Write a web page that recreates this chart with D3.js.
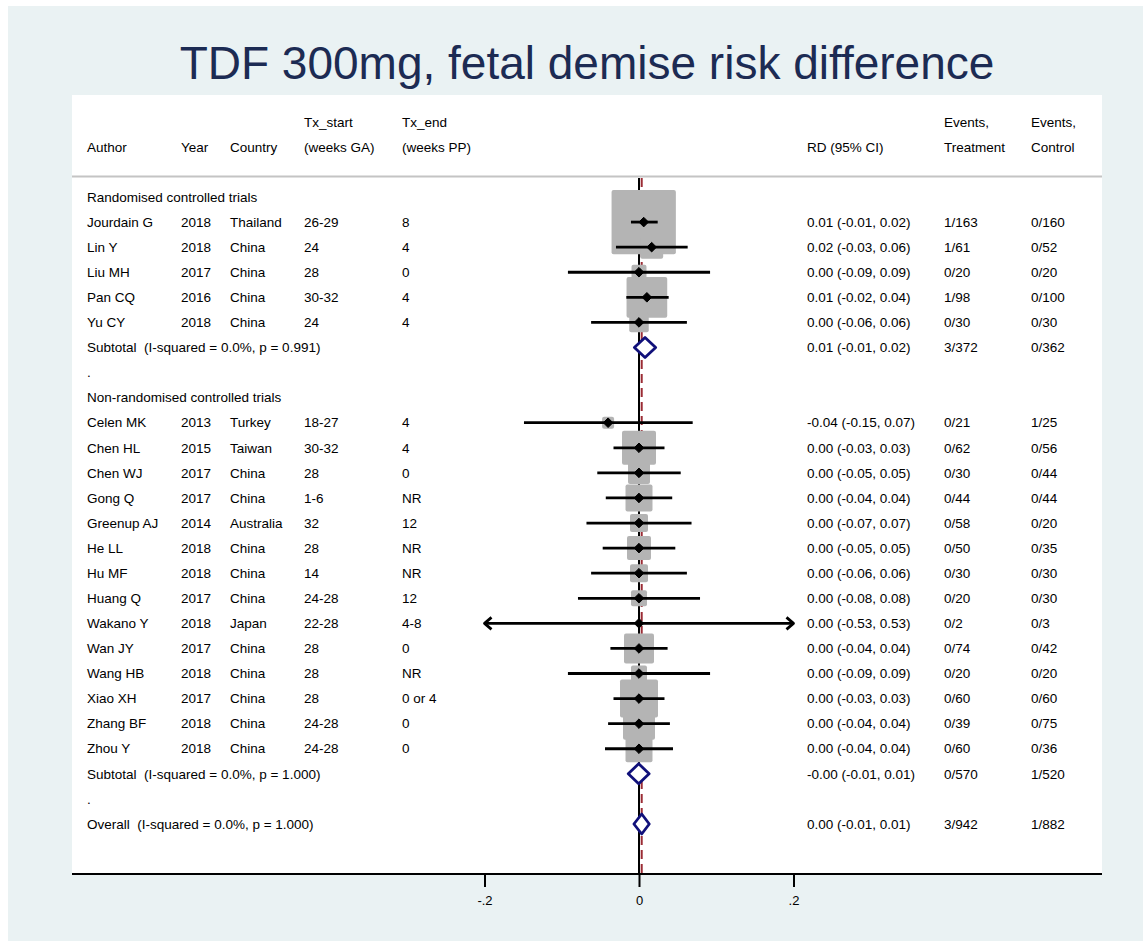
<!DOCTYPE html>
<html>
<head>
<meta charset="utf-8">
<script src="https://cdn.jsdelivr.net/npm/d3@7"></script>
<style>
  body { margin: 0; background: #ffffff; }
  text { font-family: "Liberation Sans", Arial, Helvetica, sans-serif; fill: #000; }
</style>
</head>
<body>
<svg id="chart" width="1143" height="941"></svg>
<script>
// ---- Study-level data --------------------------------------------------
const authors   = ["Jourdain G", "Lin Y", "Liu MH", "Pan CQ", "Yu CY",
                   "Celen MK", "Chen HL", "Chen WJ", "Gong Q", "Greenup AJ", "He LL", "Hu MF",
                   "Huang Q", "Wakano Y", "Wan JY", "Wang HB", "Xiao XH", "Zhang BF", "Zhou Y"];
const years     = ["2018", "2018", "2017", "2016", "2018",
                   "2013", "2015", "2017", "2017", "2014", "2018", "2018",
                   "2017", "2018", "2017", "2018", "2017", "2018", "2018"];
const countries = ["Thailand", "China", "China", "China", "China",
                   "Turkey", "Taiwan", "China", "China", "Australia", "China", "China",
                   "China", "Japan", "China", "China", "China", "China", "China"];
const txStart   = ["26-29", "24", "28", "30-32", "24",
                   "18-27", "30-32", "28", "1-6", "32", "28", "14",
                   "24-28", "22-28", "28", "28", "28", "24-28", "24-28"];
const txEnd     = ["8", "4", "0", "4", "4",
                   "4", "4", "0", "NR", "12", "NR", "NR",
                   "12", "4-8", "0", "NR", "0 or 4", "0", "0"];
// risk difference and 95% CI
const rd        = [0.0061, 0.0164, 0, 0.0102, 0,
                   -0.0400, 0, 0, 0, 0, 0, 0,
                   0, 0, 0, 0, 0, 0, 0];
const rdLow     = [-0.0104, -0.0298, -0.092, -0.0164, -0.062,
                   -0.1489, -0.033, -0.054, -0.043, -0.068, -0.047, -0.062,
                   -0.079, -0.53, -0.037, -0.092, -0.033, -0.040, -0.044];
const rdHigh    = [0.0242, 0.0630, 0.092, 0.0384, 0.062,
                   0.0695, 0.033, 0.054, 0.043, 0.068, 0.047, 0.062,
                   0.079, 0.53, 0.037, 0.092, 0.033, 0.040, 0.044];
// study weights (%)
const weights   = [27.07, 3.47, 1.47, 10.84, 2.49,
                   0.94, 7.57, 3.17, 4.77, 2.12, 3.77, 2.12,
                   1.68, 0.03, 5.89, 1.68, 9.45, 6.70, 4.77];
const eventsTx  = ["1/163", "1/61", "0/20", "1/98", "0/30",
                   "0/21", "0/62", "0/30", "0/44", "0/58", "0/50", "0/30",
                   "0/20", "0/2", "0/74", "0/20", "0/60", "0/39", "0/60"];
const eventsCtl = ["0/160", "0/52", "0/20", "0/100", "0/30",
                   "1/25", "0/56", "0/44", "0/44", "0/20", "0/35", "0/30",
                   "0/30", "0/3", "0/42", "0/20", "0/60", "0/75", "0/36"];

// ---- Subgroups and pooled estimates --------------------------------------
const groupNames  = ["Randomised controlled trials", "Non-randomised controlled trials"];
const groupSizes  = [5, 14];
const pooledLabel = ["Subtotal  (I-squared = 0.0%, p = 0.991)",
                     "Subtotal  (I-squared = 0.0%, p = 1.000)",
                     "Overall  (I-squared = 0.0%, p = 1.000)"];
const pooledRd    = [0.0078, -0.0004, 0.0035];
const pooledLow   = [-0.0060, -0.0139, -0.0066];
const pooledHigh  = [0.0216, 0.0131, 0.0133];
const pooledTx    = ["3/372", "0/570", "3/942"];
const pooledCtl   = ["0/362", "1/520", "1/882"];

// ---- Axis ticks ----------------------------------------------------------
const tickValues = [-0.2, 0, 0.2];
const tickLabels = ["-.2", "0", ".2"];

// ---- Column headers --------------------------------------------------------
const headerCols = [
  { key: "author",  lines: ["", "Author"] },
  { key: "year",    lines: ["", "Year"] },
  { key: "country", lines: ["", "Country"] },
  { key: "start",   lines: ["Tx_start", "(weeks GA)"] },
  { key: "end",     lines: ["Tx_end", "(weeks PP)"] },
  { key: "ci",      lines: ["", "RD (95% CI)"] },
  { key: "evT",     lines: ["Events,", "Treatment"] },
  { key: "evC",     lines: ["Events,", "Control"] }
];

// ---- Build row table -------------------------------------------------------
const rows = [];
let s = 0;
groupNames.forEach((g, gi) => {
  rows.push({ type: "label", text: g });
  for (let k = 0; k < groupSizes[gi]; k++, s++) {
    rows.push({ type: "study", i: s });
  }
  rows.push({ type: "pooled", p: gi });
  rows.push({ type: "label", text: "." });
});
rows.push({ type: "pooled", p: 2 });

// ---- Layout ------------------------------------------------------------------
const svg = d3.select("#chart");
const W = 1143, H = 941;
const plot = { left: 72, right: 1102, top: 95, bottom: 873 };
const colX = { author: 87, year: 181, country: 230, start: 304, end: 402, ci: 807, evT: 944, evC: 1031 };

const x = d3.scaleLinear().domain([-0.2, 0.2]).range([484.5, 793.5]);
const y = d3.scaleLinear().domain([0, rows.length - 1]).range([197, 824]);
const box = d3.scaleSqrt().domain([0, d3.max(weights)]).range([0, 64.3]);
const fmt = v => v.toFixed(2);
const ciText = (e, l, h) => `${fmt(e)} (${fmt(l)}, ${fmt(h)})`;

// background panel and plot region
svg.append("rect").attr("x", 0).attr("y", 0).attr("width", W).attr("height", H).attr("fill", "#ffffff");
svg.append("rect").attr("x", 8).attr("y", 6).attr("width", W - 8).attr("height", H - 6).attr("fill", "#eaf2f3");
svg.append("rect").attr("x", plot.left).attr("y", plot.top)
  .attr("width", plot.right - plot.left).attr("height", plot.bottom - plot.top).attr("fill", "#ffffff");

// title
svg.append("text").attr("x", 587).attr("y", 79).attr("text-anchor", "middle")
  .style("font-size", "46px").style("fill", "#1c2b53")
  .text("TDF 300mg, fetal demise risk difference");

// header
const fs = "13.5px";
headerCols.forEach(c => {
  c.lines.forEach((ln, li) => {
    if (!ln) return;
    svg.append("text").attr("x", colX[c.key]).attr("y", 126.5 + li * 25)
      .style("font-size", fs).text(ln);
  });
});
svg.append("line").attr("x1", plot.left).attr("x2", plot.right)
  .attr("y1", 176.5).attr("y2", 176.5).attr("stroke", "#c4c4c4").attr("stroke-width", 2);

// reference lines (null and overall effect)
svg.append("line").attr("x1", x(0)).attr("x2", x(0)).attr("y1", 178).attr("y2", 874)
  .attr("stroke", "#000").attr("stroke-width", 2);
svg.append("line").attr("x1", x(pooledRd[2])).attr("x2", x(pooledRd[2])).attr("y1", 178).attr("y2", 873)
  .attr("stroke", "#9b2c35").attr("stroke-width", 2).attr("stroke-dasharray", "9,5");

const g = svg.append("g");
const [dMin, dMax] = x.domain();

// weight boxes
rows.forEach((r, ri) => {
  if (r.type !== "study") return;
  const side = box(weights[r.i]);
  if (side < 1) return;
  g.append("rect").attr("x", x(rd[r.i]) - side / 2).attr("y", y(ri) - side / 2)
    .attr("width", side).attr("height", side).attr("rx", 2)
    .attr("fill", "#b4b4b4");
});

// confidence intervals, point estimates, arrows
rows.forEach((r, ri) => {
  if (r.type !== "study") return;
  const i = r.i, cy = y(ri);
  const lo = Math.max(rdLow[i], dMin), hi = Math.min(rdHigh[i], dMax);
  g.append("line").attr("x1", x(lo)).attr("x2", x(hi)).attr("y1", cy).attr("y2", cy)
    .attr("stroke", "#000").attr("stroke-width", 2.8);
  const arrow = (xt, dir) => g.append("path")
    .attr("d", `M${xt + dir * 7},${cy - 6}L${xt},${cy}L${xt + dir * 7},${cy + 6}`)
    .attr("fill", "none").attr("stroke", "#000").attr("stroke-width", 2.8)
    .attr("stroke-linejoin", "round");
  if (rdLow[i] < dMin) arrow(x(dMin), 1);
  if (rdHigh[i] > dMax) arrow(x(dMax), -1);
  const px = x(rd[i]);
  g.append("path").attr("d", `M${px - 4.8},${cy}L${px},${cy - 4.8}L${px + 4.8},${cy}L${px},${cy + 4.8}Z`)
    .attr("fill", "#000").attr("stroke", "#000").attr("stroke-width", 1).attr("stroke-linejoin", "round");
});

// pooled diamonds
rows.forEach((r, ri) => {
  if (r.type !== "pooled") return;
  const p = r.p, cy = y(ri);
  g.append("path")
    .attr("d", `M${x(pooledLow[p])},${cy}L${x(pooledRd[p])},${cy - 10}L${x(pooledHigh[p])},${cy}L${x(pooledRd[p])},${cy + 10}Z`)
    .attr("fill", "#ffffff").attr("stroke", "#10107a").attr("stroke-width", 2.8)
    .attr("stroke-linejoin", "round");
});

// table text
const put = (xx, yy, t) => svg.append("text").attr("x", xx).attr("y", yy).attr("dy", "0.35em")
  .style("font-size", fs).style("white-space", "pre").attr("xml:space", "preserve").text(t);
rows.forEach((r, ri) => {
  const cy = y(ri);
  if (r.type === "label") {
    put(colX.author, cy, r.text);
  } else if (r.type === "study") {
    const i = r.i;
    put(colX.author, cy, authors[i]);
    put(colX.year, cy, years[i]);
    put(colX.country, cy, countries[i]);
    put(colX.start, cy, txStart[i]);
    put(colX.end, cy, txEnd[i]);
    put(colX.ci, cy, ciText(rd[i], rdLow[i], rdHigh[i]));
    put(colX.evT, cy, eventsTx[i]);
    put(colX.evC, cy, eventsCtl[i]);
  } else {
    const p = r.p;
    put(colX.author, cy, pooledLabel[p]);
    put(colX.ci, cy, ciText(pooledRd[p], pooledLow[p], pooledHigh[p]));
    put(colX.evT, cy, pooledTx[p]);
    put(colX.evC, cy, pooledCtl[p]);
  }
});

// x axis
const axisG = svg.append("g").attr("transform", `translate(0,${plot.bottom + 1})`);
axisG.append("line").attr("x1", plot.left).attr("x2", plot.right)
  .attr("stroke", "#000").attr("stroke-width", 2);
const ax = d3.axisBottom(x).tickValues(tickValues).tickSize(13)
  .tickFormat((d, i) => tickLabels[i]);
const axG2 = axisG.append("g").call(ax);
axG2.select(".domain").remove();
axG2.selectAll(".tick line").attr("stroke", "#000").attr("stroke-width", 2);
axG2.selectAll(".tick text").attr("y", 26).attr("dy", "0.35em")
  .style("font-size", "13px").style("font-family", "'Liberation Sans', Arial, sans-serif").attr("fill", "#000");
</script>
</body>
</html>
